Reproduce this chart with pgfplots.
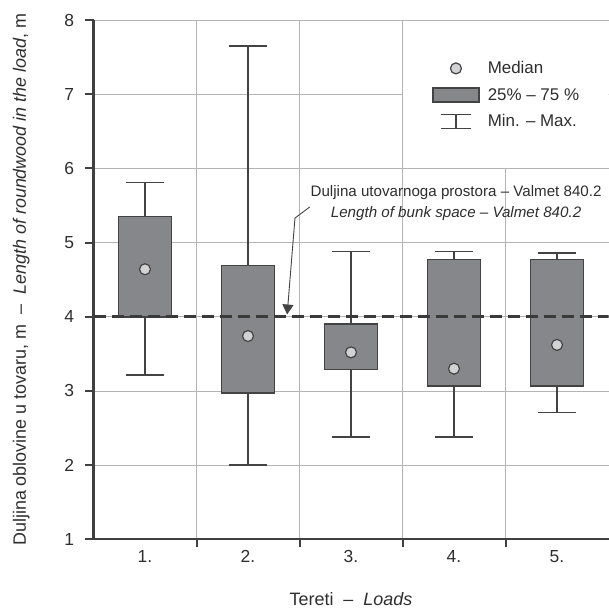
\documentclass[border=0pt]{standalone}
\usepackage{fontspec}
\setmainfont{Liberation Sans}
\usepackage{pgfplots}
\pgfplotsset{compat=1.18}
\usepgfplotslibrary{statistics}
\usetikzlibrary{arrows.meta}
\definecolor{axisgray}{HTML}{404040}
\definecolor{gridgray}{HTML}{B4B4B4}
\definecolor{boxfill}{HTML}{86878A}
\definecolor{boxedge}{HTML}{434343}
\definecolor{medfill}{HTML}{D2D2D4}
\definecolor{dashc}{HTML}{3A3A3A}
\definecolor{textc}{HTML}{2E2E2E}
\begin{document}
\begin{tikzpicture}
\begin{axis}[
  set layers,
  scale only axis,
  width=515bp, height=519.3bp,
  xmin=0.5, xmax=5.5, ymin=1, ymax=8,
  axis x line=bottom, axis y line=left,
  axis line style={-, line width=2bp, draw=axisgray},
  xtick={1.5,2.5,3.5,4.5}, xticklabels={},
  extra x ticks={1,2,3,4,5},
  extra x tick labels={1.,2.,3.,4.,5.},
  extra x tick style={major tick length=0pt, grid=none},
  ytick={1,2,3,4,5,6,7,8},
  tick align=outside, major tick length=8bp,
  tick style={line width=2bp, draw=axisgray},
  xmajorgrids, ymajorgrids,
  grid style={line width=0.8bp, draw=gridgray},
  /pgf/number format/assume math mode=true,
  ticklabel style={font=\fontsize{17.5}{20}\selectfont, text=textc},
  xticklabel style={yshift=-8bp},
  yticklabel style={xshift=-8bp},
  xlabel={Tereti~ – ~\textit{Loads}},
  ylabel={Duljina oblovine u tovaru, m~ – ~\textit{Length of roundwood in the load}, m},
  label style={font=\fontsize{18}{20}\selectfont, text=textc},
  xlabel style={at={(axis description cs:0.5,-0.1284)}, anchor=base},
  ylabel style={at={(axis description cs:-0.1311,0.5)}, anchor=base},
  boxplot/draw direction=y,
  boxplot/draw/median/.code={},
  legend style={at={(axis cs:3.786,7.47)}, anchor=north west, draw=none, fill=none,
    font=\fontsize{17}{20}\selectfont, text=textc, row sep=9bp, inner sep=0pt,
    column sep=6bp},
  legend cell align=left,
]
% white background of the legend cell
\fill[white] ([shift={(0.6bp,0.6bp)}]axis cs:3.5,6) rectangle ([shift={(3bp,-0.6bp)}]axis cs:5.5,8);

\addlegendimage{legend image code/.code={\path[draw=none] (0bp,0bp) -- (46bp,0bp); \draw[fill=medfill,draw=boxedge,line width=1.2bp] (23bp,0bp) circle (5.5bp);}}
\addlegendentry{Median}
\addlegendimage{legend image code/.code={\draw[fill=boxfill,draw=boxedge,line width=1.6bp] (0bp,-7bp) rectangle (46bp,7bp);}}
\addlegendentry{25\% – 75 \%}
\addlegendimage{legend image code/.code={\path[draw=none] (0bp,0bp) -- (46bp,0bp); \draw[draw=boxedge,line width=1.6bp] (8bp,-7bp)--(38bp,-7bp) (8bp,7bp)--(38bp,7bp) (23bp,-7bp)--(23bp,7bp);}}
\addlegendentry{Min. – Max.}

\addplot[boxplot prepared={draw position=1, lower whisker=3.21, lower quartile=4.00, median=4.64, upper quartile=5.35, upper whisker=5.81, box extend=0.515, whisker extend=0.36}, draw=boxedge, fill=boxfill, line width=1.7bp, forget plot] coordinates {};
\addplot[boxplot prepared={draw position=2, lower whisker=2.00, lower quartile=2.97, median=3.74, upper quartile=4.69, upper whisker=7.65, box extend=0.515, whisker extend=0.36}, draw=boxedge, fill=boxfill, line width=1.7bp, forget plot] coordinates {};
\addplot[boxplot prepared={draw position=3, lower whisker=2.38, lower quartile=3.29, median=3.52, upper quartile=3.90, upper whisker=4.88, box extend=0.515, whisker extend=0.36}, draw=boxedge, fill=boxfill, line width=1.7bp, forget plot] coordinates {};
\addplot[boxplot prepared={draw position=4, lower whisker=2.38, lower quartile=3.07, median=3.30, upper quartile=4.77, upper whisker=4.88, box extend=0.515, whisker extend=0.36}, draw=boxedge, fill=boxfill, line width=1.7bp, forget plot] coordinates {};
\addplot[boxplot prepared={draw position=5, lower whisker=2.71, lower quartile=3.07, median=3.62, upper quartile=4.77, upper whisker=4.86, box extend=0.515, whisker extend=0.36}, draw=boxedge, fill=boxfill, line width=1.7bp, forget plot] coordinates {};

\addplot[dashc, line width=2.8bp, dash pattern=on 12bp off 6bp, forget plot] coordinates {(0.5,4) (5.5,4)};

\addplot[only marks, mark=*, mark size=5.5bp, mark options={fill=medfill, draw=boxedge, line width=1.2bp}, forget plot] coordinates {(1,4.64) (2,3.74) (3,3.52) (4,3.30) (5,3.62)};

\node[align=center, font=\fontsize{15.2}{21}\selectfont, text=textc] at (axis cs:4.02,5.53) {Duljina utovarnoga prostora – Valmet 840.2\\\textit{Length of bunk space – Valmet 840.2}};
\draw[boxedge, line width=0.9bp, -{Triangle[width=11bp,length=10bp]}] (axis cs:2.60,5.48) -- (axis cs:2.456,5.33) -- (axis cs:2.38,4.03);
\end{axis}
\pgfresetboundingbox
\path ([shift={(-93.5bp,-69.7bp)}]current axis.south west) rectangle ++(609bp,609bp);
\end{tikzpicture}
\end{document}
